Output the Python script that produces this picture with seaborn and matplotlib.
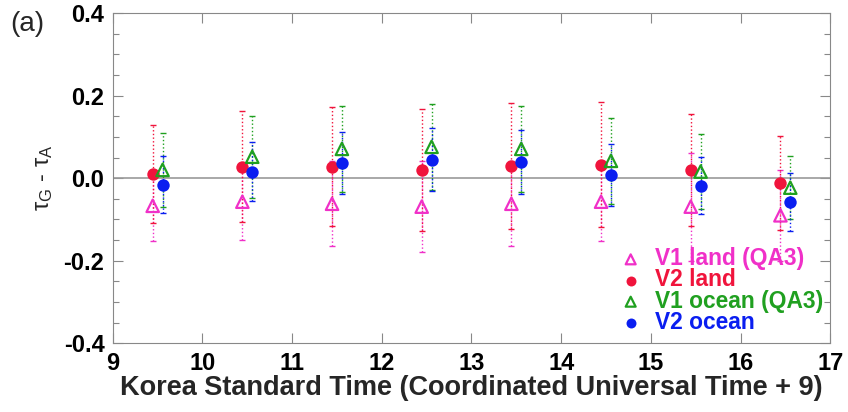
import matplotlib
matplotlib.use('Agg')
import matplotlib.pyplot as plt
import pandas as pd
import numpy as np
import seaborn as sns
from matplotlib.ticker import MultipleLocator

# Hours (KST) and the four series: mean and std of tau_G - tau_A
hours = [9.5, 10.5, 11.5, 12.5, 13.5, 14.5, 15.5, 16.5]
v1_land_mean = [-0.067, -0.057, -0.062, -0.069, -0.062, -0.057, -0.069, -0.090]
v1_land_std = [0.086, 0.094, 0.103, 0.111, 0.103, 0.096, 0.131, 0.110]
v2_land_mean = [0.011, 0.028, 0.028, 0.020, 0.030, 0.033, 0.020, -0.011]
v2_land_std = [0.119, 0.135, 0.144, 0.148, 0.152, 0.152, 0.136, 0.114]
v1_ocean_mean = [0.020, 0.052, 0.071, 0.076, 0.071, 0.042, 0.016, -0.023]
v1_ocean_std = [0.090, 0.099, 0.104, 0.104, 0.104, 0.104, 0.091, 0.077]
v2_ocean_mean = [-0.016, 0.016, 0.037, 0.045, 0.040, 0.008, -0.018, -0.057]
v2_ocean_std = [0.069, 0.071, 0.076, 0.076, 0.078, 0.075, 0.070, 0.070]

labels = ['V1 land (QA3)', 'V2 land', 'V1 ocean (QA3)', 'V2 ocean']
colors = ['#F030C8', '#F0143C', '#20A020', '#0A1EF0']

sns.set_style('ticks')
plt.rcParams['font.family'] = ['Liberation Sans', 'DejaVu Sans']

fig, ax = plt.subplots(1, 1, figsize=(8.48, 4.12), dpi=100)
plt.subplots_adjust(left=0.133, right=0.979, bottom=0.167, top=0.968)

ax.axhline(0, color='#999999', lw=1.2, zorder=1)

series = [
    (v1_land_mean, v1_land_std, -0.055, '^', False),
    (v2_land_mean, v2_land_std, -0.055, 'o', True),
    (v1_ocean_mean, v1_ocean_std, 0.055, '^', False),
    (v2_ocean_mean, v2_ocean_std, 0.055, 'o', True),
]

for (mean, std, off, mk, filled), lab, col in zip(series, labels, colors):
    x = np.array(hours) + off
    eb = ax.errorbar(x, mean, yerr=std, fmt='none', ecolor=col, elinewidth=1.0,
                     capsize=2.5, capthick=1.0, zorder=2)
    eb[2][0].set_linestyle(':')
    df = pd.DataFrame({'x': x, 'y': mean})
    if filled:
        sns.scatterplot(data=df, x='x', y='y', ax=ax, marker=mk, s=80, color=col,
                        edgecolor=col, linewidth=0, label=lab, zorder=3)
    else:
        sns.scatterplot(data=df, x='x', y='y', ax=ax, marker=mk, s=80,
                        facecolor='none', edgecolor=col, linewidth=1.6,
                        label=lab, zorder=3)

ax.set_xlim(9, 17)
ax.set_ylim(-0.4, 0.4)
ax.xaxis.set_major_locator(MultipleLocator(1))
ax.yaxis.set_minor_locator(MultipleLocator(0.05))
ax.set_yticks([0.4, 0.2, 0.0, -0.2, -0.4])
ax.set_yticklabels(['0.4', '0.2', '0.0', '-0.2', '-0.4'])
ax.tick_params(direction='in', top=True, right=True, length=7, width=0.8,
               labelsize=17, pad=6, colors='#888888', labelcolor='black')
ax.tick_params(which='minor', direction='in', right=True, length=4, width=0.8,
               colors='#888888')
for lbl in ax.get_xticklabels() + ax.get_yticklabels():
    lbl.set_fontweight('bold')
for sp in ax.spines.values():
    sp.set_color('#888888')
    sp.set_linewidth(0.8)

ax.set_xlabel('Korea Standard Time (Coordinated Universal Time + 9)',
              fontsize=19.5, fontweight='bold', labelpad=0)
ax.set_ylabel(r'$\mathregular{\tau_G}$ - $\mathregular{\tau_A}$', fontsize=17, labelpad=6)
fig.text(0.012, 0.925, '(a)', fontsize=20)

leg = ax.legend(loc='lower right', frameon=False, labelspacing=-0.08,
                handletextpad=0.05, borderaxespad=0.3, markerscale=0.8,
                prop={'weight': 'bold', 'size': 16.4}, bbox_to_anchor=(1.012, -0.02))
for txt, col in zip(leg.get_texts(), colors):
    txt.set_color(col)

plt.savefig('out.png', dpi=100)
